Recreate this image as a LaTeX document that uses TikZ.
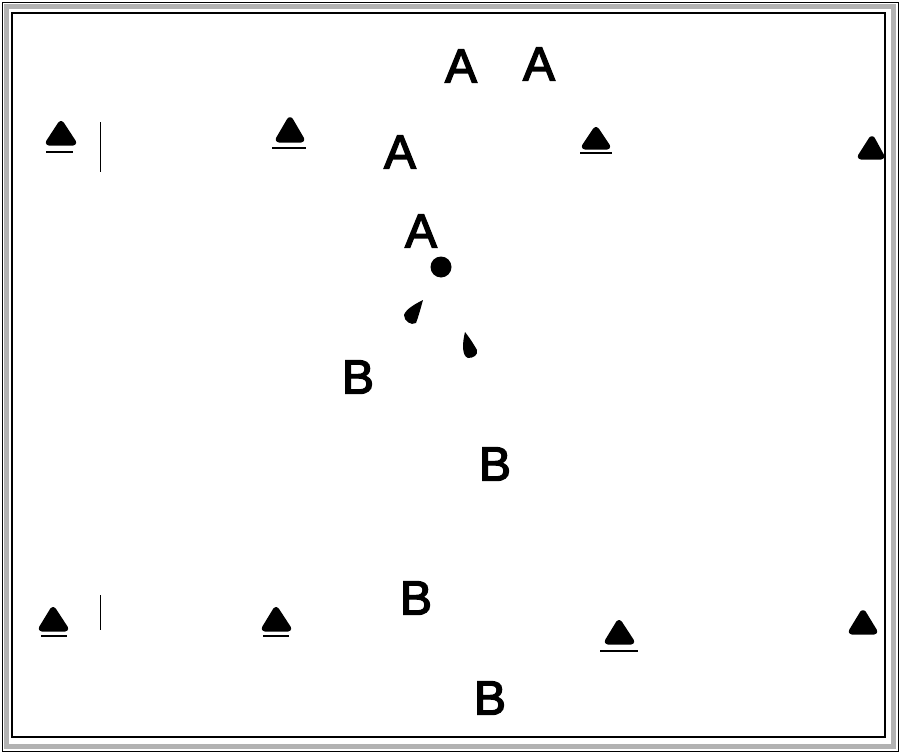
\documentclass[tikz,border=0pt]{standalone}
\usepackage{fontspec}
\setmainfont{Liberation Sans}
\newfontfamily\lettfont[FakeBold=3]{Liberation Sans}
\begin{document}
\begin{tikzpicture}[x=1pt,y=-1pt,
  cone/.style={fill=black,draw=black,line width=3pt,rounded corners=3pt,line join=round},
  uline/.style={line width=1.2pt},
  letter/.style={inner sep=0pt,font=\lettfont\fontsize{48}{48}\selectfont},
  tick/.style={line width=0.6pt}]
\useasboundingbox (0,0) rectangle (900,752);
% frame
\draw[line width=1pt] (2,3) rectangle (898,751);
\draw[gray!60,line width=5pt] (6,7) rectangle (893,746);
\draw[line width=1.2pt] (12,13) rectangle (885,737);
% cones top row
\path[cone] (46,144) -- (61,121) -- (76,144) -- cycle;
\draw[uline] (46,152) -- (73,152);
\path[cone] (276,141) -- (290,117) -- (304,141) -- cycle;
\draw[uline] (272,148) -- (306,148);
\path[cone] (582,148) -- (596,127) -- (610,148) -- cycle;
\draw[uline] (580,153) -- (612,153);
\path[cone] (858,158) -- (872,136) -- (884,158) -- cycle;
% cones bottom row
\path[cone] (39,630) -- (53,607) -- (68,630) -- cycle;
\draw[uline] (41,636) -- (67,636);
\path[cone] (262,630) -- (276,607) -- (291,630) -- cycle;
\draw[uline] (263,636) -- (289,636);
\path[cone] (605,643) -- (619,620) -- (634,643) -- cycle;
\draw[uline] (600,651) -- (638,651);
\path[cone] (849,633) -- (863,610) -- (877,633) -- cycle;
% thin marks
\draw[tick] (100,122) -- (100,172);
\draw[tick] (100,595) -- (100,630);
% letters A
\node[letter] (a1) at (461,66) {A};
\node[letter] (a2) at (539,64) {A};
\node[letter] (a3) at (400,152) {A};
\node[letter] (a4) at (421,231) {A};
% letters B
\node[letter] (b1) at (358,377) {B};
\node[letter] (b2) at (495,464) {B};
\node[letter] (b3) at (416,598) {B};
\node[letter] (b4) at (490,698) {B};
% ball
\fill (441,267) circle (10.5);
% wedges
\fill (423,300) .. controls (415,304) and (406,309) .. (404,315) .. controls (404,321) and (411,326) .. (416,323) .. controls (419,315) and (421,307) .. (423,300) -- cycle;
\fill (465,332) .. controls (462,344) and (462,356) .. (468,358) .. controls (474,358) and (478,355) .. (477,350) .. controls (473,343) and (469,337) .. (465,332) -- cycle;
\end{tikzpicture}
\end{document}
